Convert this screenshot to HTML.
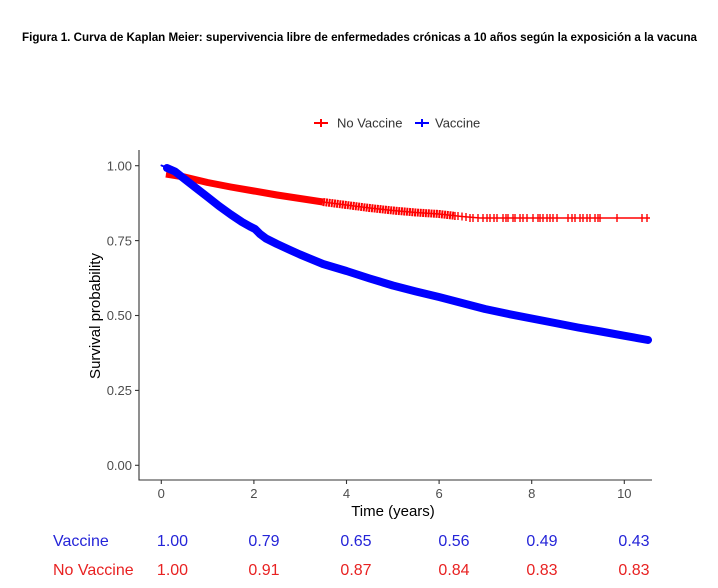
<!DOCTYPE html>
<html><head><meta charset="utf-8"><style>
html,body{margin:0;padding:0;background:#fff;}
svg{display:block;}
</style></head><body>
<svg width="718" height="588" viewBox="0 0 718 588" xmlns="http://www.w3.org/2000/svg">
<rect width="718" height="588" fill="#fff"/>
<text x="22" y="41" font-family="Liberation Sans, sans-serif" font-weight="bold" font-size="12" textLength="675" lengthAdjust="spacingAndGlyphs" fill="#000">Figura 1. Curva de Kaplan Meier: supervivencia libre de enfermedades crónicas a 10 años según la exposición a la vacuna</text>

<!-- legend -->
<g stroke="#ff0000" stroke-width="2"><line x1="314" y1="123" x2="328" y2="123"/><line x1="321" y1="119" x2="321" y2="127"/></g>
<text x="337" y="127.5" font-family="Liberation Sans, sans-serif" font-size="13" fill="#333">No Vaccine</text>
<g stroke="#0000ff" stroke-width="2"><line x1="415" y1="123" x2="429" y2="123"/><line x1="422" y1="119" x2="422" y2="127"/></g>
<text x="435" y="127.5" font-family="Liberation Sans, sans-serif" font-size="13" fill="#333">Vaccine</text>

<!-- axes -->
<g stroke="#333" stroke-width="1.1" fill="none">
<line x1="139" y1="150" x2="139" y2="480.5"/>
<line x1="138.5" y1="480" x2="652" y2="480"/>
<line x1="135" y1="165.7" x2="139" y2="165.7"/>
<line x1="135" y1="240.6" x2="139" y2="240.6"/>
<line x1="135" y1="315.5" x2="139" y2="315.5"/>
<line x1="135" y1="390.4" x2="139" y2="390.4"/>
<line x1="135" y1="465.3" x2="139" y2="465.3"/>
<line x1="161.3" y1="480" x2="161.3" y2="484"/>
<line x1="253.9" y1="480" x2="253.9" y2="484"/>
<line x1="346.5" y1="480" x2="346.5" y2="484"/>
<line x1="439.1" y1="480" x2="439.1" y2="484"/>
<line x1="531.7" y1="480" x2="531.7" y2="484"/>
<line x1="624.3" y1="480" x2="624.3" y2="484"/>
</g>
<g font-family="Liberation Sans, sans-serif" font-size="13" fill="#4d4d4d" text-anchor="end">
<text x="132" y="170.4">1.00</text>
<text x="132" y="245.3">0.75</text>
<text x="132" y="320.2">0.50</text>
<text x="132" y="395.1">0.25</text>
<text x="132" y="470">0.00</text>
</g>
<g font-family="Liberation Sans, sans-serif" font-size="13" fill="#4d4d4d" text-anchor="middle">
<text x="161.3" y="498">0</text>
<text x="253.9" y="498">2</text>
<text x="346.5" y="498">4</text>
<text x="439.1" y="498">6</text>
<text x="531.7" y="498">8</text>
<text x="624.3" y="498">10</text>
</g>
<text x="393" y="516" font-family="Liberation Sans, sans-serif" font-size="15" fill="#000" text-anchor="middle">Time (years)</text>
<text transform="translate(100,316) rotate(-90)" font-family="Liberation Sans, sans-serif" font-size="15" fill="#000" text-anchor="middle">Survival probability</text>

<!-- No Vaccine (red) -->
<g fill="none" stroke="#ff0000" stroke-linejoin="round">
<path stroke-width="1.6" d="M166,174 L184.5,177 L207.6,182.5 L230.8,187 L254,191 L277,195 L300,198.5 L323,202 L346.5,205 L369.7,208 L392.8,210.5 L416,212.5 L439,214 L462,216.5 L480,218 L650,218"/>
<path stroke-width="7" d="M166,174 L184.5,177 L207.6,182.5 L230.8,187 L254,191 L277,195 L300,198.5 L323,202"/>
<path stroke-width="8" stroke-dasharray="2 0.7" d="M323,202 L346.5,205 L369.7,208 L392.8,210.5 L416,212.5 L439,214 L455,215.8"/>
<path stroke-width="1.4" d="M455,212 V220 M458,212 V220 M462,212.5 V220.5 M466,213 V221 M470,214 V222 M473,214 V222 M478,214 V222 M483,214 V222 M487,214 V222 M490,214 V222 M494,214 V222 M497,214 V222 M503,214 V222 M506,214 V222 M508,214 V222 M513,214 V222 M515,214 V222 M520,214 V222 M523,214 V222 M527,214 V222 M533,214 V222 M538,214 V222 M540,214 V222 M543,214 V222 M547,214 V222 M550,214 V222 M553,214 V222 M557,214 V222 M568,214 V222 M572,214 V222 M575,214 V222 M580,214 V222 M583,214 V222 M587,214 V222 M590,214 V222 M595,214 V222 M598,214 V222 M600,214 V222 M617,214 V222 M642,214 V222 M647,214 V222"/>
</g>

<!-- Vaccine (blue) -->
<g fill="none" stroke="#0000ff" stroke-linejoin="round" stroke-linecap="round">
<path stroke-width="2" d="M161.5,165.5 L168,168"/>
<path stroke-width="8" d="M167,168 L175,171.5 L184.5,179 L196,188 L207.6,197 L219,206 L230.8,214.5 L242,222 L250,226.5 L255,229 L260,234 L266,238.5 L277,244 L290,250 L300,254.5 L323,264 L346.5,271 L369.7,278.5 L392.8,285.5 L416,291.5 L439,297 L462,303 L485,309 L508.6,314 L531.7,318.5 L555,323 L578,327.5 L601,331.5 L624,335.7 L648,340"/>
</g>

<!-- table -->
<g font-family="Liberation Sans, sans-serif" font-size="16">
<text x="53" y="546" fill="#2424d8">Vaccine</text>
<g fill="#2424d8" text-anchor="middle">
<text x="172.5" y="546">1.00</text>
<text x="264" y="546">0.79</text>
<text x="356" y="546">0.65</text>
<text x="454" y="546">0.56</text>
<text x="542" y="546">0.49</text>
<text x="634" y="546">0.43</text>
</g>
<text x="53" y="575" fill="#e82222">No Vaccine</text>
<g fill="#e82222" text-anchor="middle">
<text x="172.5" y="575">1.00</text>
<text x="264" y="575">0.91</text>
<text x="356" y="575">0.87</text>
<text x="454" y="575">0.84</text>
<text x="542" y="575">0.83</text>
<text x="634" y="575">0.83</text>
</g>
</g>
</svg>
</body></html>
